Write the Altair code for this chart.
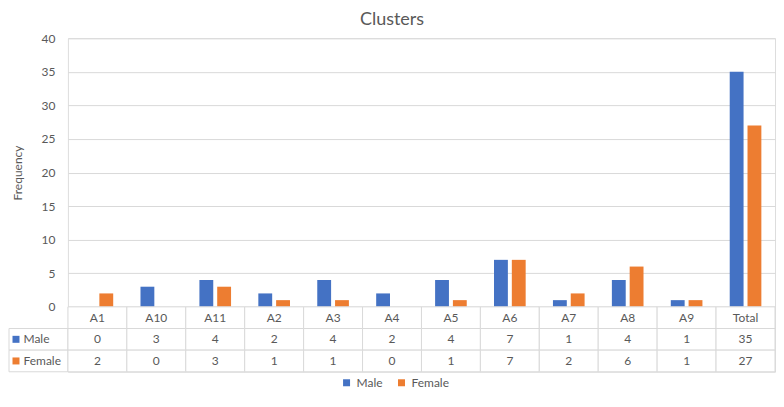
import altair as alt
import pandas as pd

cats = ["A1", "A10", "A11", "A2", "A3", "A4", "A5", "A6", "A7", "A8", "A9", "Total"]
male = [0, 3, 4, 2, 4, 2, 4, 7, 1, 4, 1, 35]
female = [2, 0, 3, 1, 1, 0, 1, 7, 2, 6, 1, 27]
series = ["Male", "Female"]
colors = ["#4472C4", "#ED7D31"]
y_ticks = [0, 5, 10, 15, 20, 25, 30, 35, 40]

GRAY = "#595959"
LINE = "#D9D9D9"
FONT = "Lato"
W = 708

long_rows = []
for c, m, f in zip(cats, male, female):
    long_rows.append({"cat": c, "gender": "Male", "value": m})
    long_rows.append({"cat": c, "gender": "Female", "value": f})
bar_df = pd.DataFrame(long_rows)

table_rows = ["hdr", "Male", "Female"]
cell_rows = []
for c, m, f in zip(cats, male, female):
    cell_rows.append({"cat": c, "row": "hdr", "text": c})
    cell_rows.append({"cat": c, "row": "Male", "text": str(m)})
    cell_rows.append({"cat": c, "row": "Female", "text": str(f)})
cell_df = pd.DataFrame(cell_rows)
label_df = pd.DataFrame({"cat": [cats[0]] * 2, "row": series, "col": colors})

bars = alt.Chart(bar_df).mark_bar().encode(
    x=alt.X("cat:N", sort=cats,
            scale=alt.Scale(domain=cats, paddingInner=0.463, paddingOuter=0.2315),
            axis=None),
    xOffset=alt.XOffset("gender:N", sort=series,
                        scale=alt.Scale(domain=series, paddingInner=0.222, paddingOuter=0)),
    y=alt.Y("value:Q", scale=alt.Scale(domain=[0, 40], nice=False),
            axis=alt.Axis(values=y_ticks, title="Frequency", grid=True, gridColor=LINE,
                          ticks=False, domain=False, labelPadding=13,
                          labelColor=GRAY, labelFontSize=12, labelFont=FONT,
                          titleColor=GRAY, titleFontSize=12, titleFont=FONT,
                          titleFontWeight="normal", titlePadding=17)),
    color=alt.Color("gender:N", sort=series,
                    scale=alt.Scale(domain=series, range=colors),
                    legend=alt.Legend(title=None, orient="none", direction="horizontal",
                                      legendX=273, legendY=339, symbolType="square",
                                      symbolSize=49, symbolStrokeWidth=0,
                                      labelColor=GRAY, labelFontSize=12, labelFont=FONT,
                                      columnPadding=12)),
).properties(width=W, height=269)

tx = alt.X("cat:N", sort=cats, scale=alt.Scale(domain=cats, paddingInner=0, paddingOuter=0), axis=None)
ty = alt.Y("row:N", sort=table_rows,
           scale=alt.Scale(domain=table_rows, paddingInner=0, paddingOuter=0),
           axis=alt.Axis(title=None, domain=False, ticks=False, grid=False,
                         labelExpr="datum.value == 'hdr' ? '' : datum.value",
                         labelAlign="left", labelPadding=45, labelColor=GRAY,
                         labelFontSize=12, labelFont=FONT))

cells = alt.Chart(cell_df).mark_rect(fill="white", stroke=LINE, strokeWidth=1).encode(x=tx, y=ty)
texts = alt.Chart(cell_df).mark_text(color=GRAY, fontSize=12, font=FONT).encode(
    x=tx, y=ty, text="text:N")
label_cells = alt.Chart(label_df).mark_rect(fill="white", stroke=LINE, strokeWidth=1,
                                            xOffset=-W / 12).encode(
    x=tx, y=alt.Y("row:N", sort=table_rows,
                  scale=alt.Scale(domain=table_rows, paddingInner=0, paddingOuter=0)))
squares = alt.Chart(label_df).mark_square(size=49, opacity=1, xOffset=-52).encode(
    x=alt.X("cat:N", bandPosition=0, sort=cats,
            scale=alt.Scale(domain=cats, paddingInner=0, paddingOuter=0), axis=None),
    y=alt.Y("row:N", sort=table_rows,
            scale=alt.Scale(domain=table_rows, paddingInner=0, paddingOuter=0)),
    color=alt.Color("col:N", scale=None))

table = alt.layer(label_cells, cells, texts, squares).properties(width=W, height=65)

chart = alt.vconcat(bars, table, spacing=0, bounds="flush").properties(
    title=alt.TitleParams("Clusters", fontSize=18, color=GRAY, font=FONT,
                          fontWeight="normal", anchor="middle", offset=3),
    padding={"top": 2, "left": 0, "right": 0, "bottom": 0},
).configure_view(stroke=None).configure(font=FONT)

chart.save("out.html", embed_options={"renderer": "svg", "actions": False})
